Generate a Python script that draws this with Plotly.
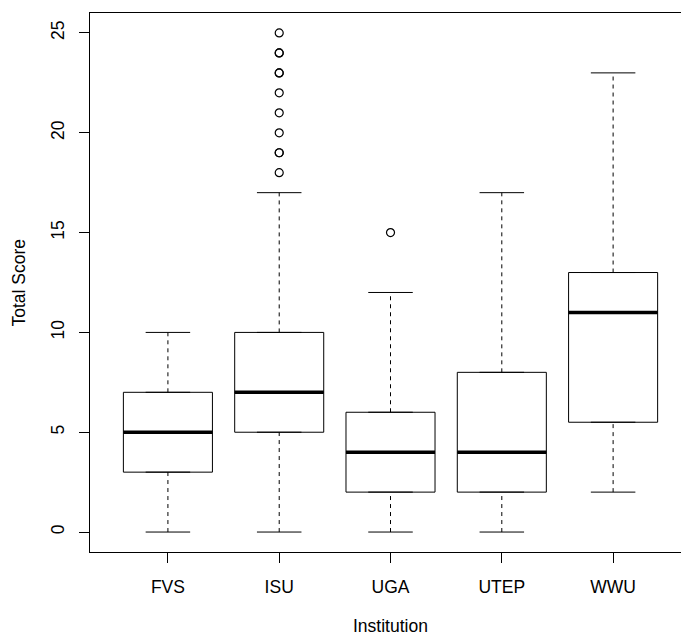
import plotly.graph_objects as go

categories = ["FVS", "ISU", "UGA", "UTEP", "WWU"]
lower = [0, 0, 0, 0, 2]
q1 = [3, 5, 2, 2, 5.5]
median = [5, 7, 4, 4, 11]
q3 = [7, 10, 6, 8, 13]
upper = [10, 17, 12, 17, 23]
outliers = {
    "ISU": [18, 19, 19, 20, 21, 22, 23, 23, 24, 24, 25],
    "UGA": [15],
}
y_ticks = [0, 5, 10, 15, 20, 25]

pos = list(range(1, len(categories) + 1))
box_w = 0.8
cap_w = 0.4
FONT = "Liberation Sans, Arial, Helvetica, sans-serif"
FS = 17.5

fig = go.Figure()

# whiskers (dashed)
for p, lo, a, b, hi in zip(pos, lower, q1, q3, upper):
    fig.add_trace(go.Scatter(x=[p, p, None, p, p], y=[lo, a, None, b, hi], mode="lines",
                             line=dict(color="black", width=1, dash="4px,4px"),
                             hoverinfo="skip", showlegend=False))
    fig.add_trace(go.Scatter(x=[p - cap_w / 2, p + cap_w / 2, None, p - cap_w / 2, p + cap_w / 2],
                             y=[lo, lo, None, hi, hi], mode="lines",
                             line=dict(color="black", width=1),
                             hoverinfo="skip", showlegend=False))

# boxes
for p, a, m, b in zip(pos, q1, median, q3):
    fig.add_trace(go.Box(x=[p], q1=[a], median=[m], q3=[b], lowerfence=[a], upperfence=[b],
                         width=box_w, fillcolor="white", line=dict(color="black", width=1),
                         boxpoints=False, hoverinfo="skip", showlegend=False))

# thick medians
for p, m in zip(pos, median):
    fig.add_trace(go.Scatter(x=[p - box_w / 2, p + box_w / 2], y=[m, m], mode="lines",
                             line=dict(color="black", width=3.5),
                             hoverinfo="skip", showlegend=False))

# outliers
for cat, vals in outliers.items():
    p = pos[categories.index(cat)]
    fig.add_trace(go.Scatter(x=[p] * len(vals), y=vals, mode="markers",
                             marker=dict(symbol="circle-open", size=8, color="black",
                                         line=dict(width=1.2, color="black")),
                             hoverinfo="skip", showlegend=False))

fig.update_layout(
    width=681, height=635,
    margin=dict(l=90, r=0, t=13, b=83),
    plot_bgcolor="white", paper_bgcolor="white",
    font=dict(family=FONT, size=FS, color="black"),
    showlegend=False,
    xaxis=dict(range=[0.3, 5.61], tickmode="array", tickvals=pos, ticktext=categories,
               showgrid=False, zeroline=False, showline=True, mirror=True,
               linecolor="black", linewidth=1, ticks="outside", ticklen=10,
               tickcolor="black", tickwidth=1, ticklabelstandoff=9,
               tickfont=dict(family=FONT, size=FS, color="black")),
    yaxis=dict(range=[-1, 26], tickmode="array", tickvals=y_ticks,
               ticktext=[str(v) for v in y_ticks],
               showgrid=False, zeroline=False, showline=True, mirror=False,
               linecolor="black", linewidth=1, ticks="outside", ticklen=10,
               tickcolor="black", tickwidth=1, tickangle=-90, ticklabelstandoff=8,
               tickfont=dict(family=FONT, size=FS, color="black")),
    annotations=[
        dict(text="Institution", xref="x", yref="paper", x=3, y=0, yshift=-74,
             xanchor="center", yanchor="middle", showarrow=False,
             font=dict(family=FONT, size=FS, color="black")),
        dict(text="Total Score", xref="paper", yref="paper", x=0, y=0.5, xshift=-72,
             xanchor="center", yanchor="middle", textangle=-90, showarrow=False,
             font=dict(family=FONT, size=FS, color="black")),
    ],
)

fig.write_html("out.html")
